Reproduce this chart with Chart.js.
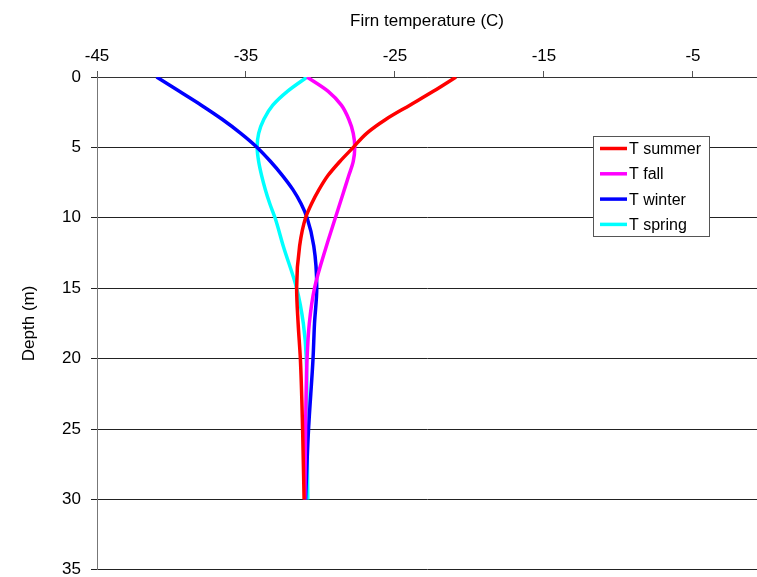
<!DOCTYPE html>
<html>
<head>
<meta charset="utf-8">
<script src="https://cdn.jsdelivr.net/npm/chart.js@4/dist/chart.umd.min.js"></script>
<style>
html, body { margin: 0; padding: 0; background: #fff; }
#frame { width: 757px; height: 577px; overflow: hidden; }
#wrap { width: 757px; height: 590px; }
</style>
</head>
<body>
<div id="frame"><div id="wrap"><canvas id="firn"></canvas></div></div>
<script>
// depth in m, temperatures in C
const depths = [0, 1, 2, 3, 4, 5, 6, 7, 8, 9, 10, 12, 15, 17.5, 20, 25, 30];
const tSummer = [-20.9, -22.4, -24.0, -25.6, -26.9, -27.8, -28.7, -29.5, -30.1, -30.6, -31.0, -31.4, -31.6, -31.5, -31.35, -31.2, -31.1];
const tFall = [-30.9, -29.5, -28.6, -28.1, -27.8, -27.7, -27.8, -28.1, -28.4, -28.7, -29.0, -29.6, -30.4, -30.75, -30.9, -31.0, -31.05];
const tWinter = [-41.0, -39.5, -38.0, -36.6, -35.35, -34.25, -33.35, -32.55, -31.85, -31.3, -30.9, -30.45, -30.25, -30.4, -30.5, -30.8, -31.0];
const tSpring = [-30.9, -32.2, -33.2, -33.8, -34.15, -34.25, -34.15, -33.95, -33.7, -33.4, -33.05, -32.5, -31.6, -31.15, -30.95, -30.9, -30.85];

const xTicks = [-45, -35, -25, -15, -5];
const yTicks = [0, 5, 10, 15, 20, 25, 30, 35];

const seriesNames = ['T summer', 'T fall', 'T winter', 'T spring'];
const seriesColors = ['#ff0000', '#ff00ff', '#0000ff', '#00ffff'];
const seriesTemps = [tSummer, tFall, tWinter, tSpring];

const font = "'Liberation Sans', Arial, sans-serif";

// legend box drawn by hand so it can sit inside the plot like the original
const boxLegend = {
	id: 'boxLegend',
	afterDraw(chart) {
		const ctx = chart.ctx;
		const x = 593, y = 136, w = 116, h = 100;
		ctx.save();
		ctx.fillStyle = '#fff';
		ctx.fillRect(x, y, w, h);
		ctx.strokeStyle = '#555';
		ctx.lineWidth = 1;
		ctx.strokeRect(x + 0.5, y + 0.5, w, h);
		ctx.font = '16px ' + font;
		ctx.textBaseline = 'middle';
		chart.data.datasets.forEach((ds, i) => {
			const ly = y + 12.5 + i * 25.3;
			ctx.strokeStyle = ds.borderColor;
			ctx.lineWidth = 3.5;
			ctx.beginPath();
			ctx.moveTo(x + 7, ly);
			ctx.lineTo(x + 34, ly);
			ctx.stroke();
			ctx.fillStyle = '#000';
			ctx.fillText(ds.label, x + 36, ly + 1);
		});
		ctx.restore();
	}
};

const datasets = seriesNames.map((name, i) => ({
	label: name,
	data: depths.map((d, j) => ({ x: seriesTemps[i][j], y: d })),
	borderColor: seriesColors[i],
	backgroundColor: seriesColors[i],
	borderWidth: 3.5,
	pointRadius: 0,
	cubicInterpolationMode: 'monotone',
	fill: false
}));

new Chart(document.getElementById('firn'), {
	type: 'line',
	data: { datasets: datasets },
	options: {
		indexAxis: 'y',
		responsive: true,
		maintainAspectRatio: false,
		animation: false,
		layout: { padding: 0 },
		plugins: {
			legend: { display: false },
			tooltip: { enabled: false }
		},
		scales: {
			x: {
				type: 'linear',
				position: 'top',
				min: -45,
				max: -0.7,
				afterBuildTicks: axis => { axis.ticks = xTicks.map(v => ({ value: v })); },
				afterFit: axis => { axis.height = 77; },
				grid: { drawOnChartArea: false, drawTicks: true, tickLength: 6, color: '#555' },
				border: { color: '#333', width: 1 },
				ticks: { color: '#000', font: { family: font, size: 17 }, padding: 4, maxRotation: 0 },
				title: { display: true, text: 'Firn temperature (C)', color: '#000', font: { family: font, size: 17 }, padding: { top: 11, bottom: 0 } }
			},
			y: {
				type: 'linear',
				position: 'left',
				reverse: true,
				min: 0,
				max: 35,
				afterBuildTicks: axis => { axis.ticks = yTicks.map(v => ({ value: v })); },
				afterFit: axis => { axis.width = 97; },
				grid: { color: '#222', tickLength: 6 },
				border: { color: '#777', width: 1 },
				ticks: { color: '#000', font: { family: font, size: 17 }, padding: 10 },
				title: { display: true, text: 'Depth (m)', color: '#000', font: { family: font, size: 17 }, padding: { top: 19, bottom: 0 } }
			}
		}
	},
	plugins: [boxLegend]
});
</script>
</body>
</html>
